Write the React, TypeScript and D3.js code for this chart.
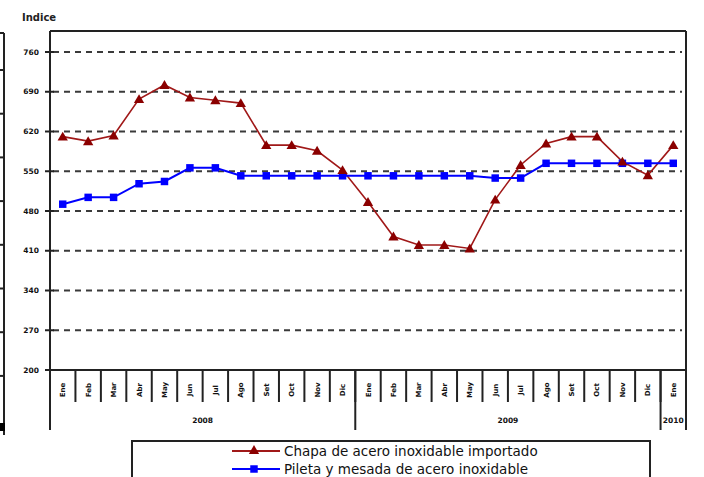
import React, { useEffect, useRef } from 'react';
import * as d3 from 'd3';

const months = ['Ene', 'Feb', 'Mar', 'Abr', 'May', 'Jun', 'Jul', 'Ago', 'Set', 'Oct', 'Nov', 'Dic'];
const years = [
  { label: '2008', count: 12 },
  { label: '2009', count: 12 },
  { label: '2010', count: 1 }
];
const categories = [...months, ...months, 'Ene'];

const chapa = [611, 603, 613, 677, 702, 680, 675, 670, 596, 596, 586, 552,
  496, 435, 420, 420, 414, 500, 561, 599, 611, 611, 567, 543, 596];
const pileta = [492, 504, 504, 528, 532, 556, 556, 542, 542, 542, 542, 542,
  542, 542, 542, 542, 542, 538, 538, 564, 564, 564, 564, 564, 564];

const yTicks = [200, 270, 340, 410, 480, 550, 620, 690, 760];

const App = () => {
  const svgRef = useRef<SVGSVGElement | null>(null);

  useEffect(() => {
    if (!svgRef.current) return;
    const svg = d3.select(svgRef.current);
    svg.selectAll('*').remove();

    const left = 50, right = 686, top = 31, bottom = 370;
    const font = 'DejaVu Sans, Verdana, sans-serif';

    const x = d3.scaleBand<number>()
      .domain(d3.range(categories.length))
      .range([left, right]);
    const y = d3.scaleLinear().domain([200, 760]).range([bottom, 52]);
    const cx = (i: number) => (x(i) as number) + x.bandwidth() / 2;

    // cropped edge of a neighbouring chart
    const edge = svg.append('g').attr('stroke', '#222').attr('stroke-width', 2);
    edge.append('line').attr('x1', 4).attr('x2', 4).attr('y1', 33).attr('y2', 435);
    edge.append('line').attr('x1', 0).attr('x2', 4).attr('y1', 33).attr('y2', 33);
    d3.range(70, 400, 43.7).forEach(t => {
      edge.append('line').attr('x1', 0).attr('x2', 4).attr('y1', t).attr('y2', t);
    });
    svg.append('rect').attr('x', 0).attr('y', 423).attr('width', 5).attr('height', 8).attr('fill', '#000');

    // title
    svg.append('text')
      .attr('x', 22).attr('y', 21)
      .attr('font-family', font).attr('font-size', 10).attr('font-weight', 'bold')
      .attr('fill', '#222')
      .text('Indice');

    // grid lines
    svg.append('g')
      .selectAll('line')
      .data(yTicks.filter(d => d > 200))
      .enter()
      .append('line')
      .attr('x1', left + 3)
      .attr('x2', right - 4)
      .attr('y1', d => y(d))
      .attr('y2', d => y(d))
      .attr('stroke', '#3a3a3a')
      .attr('stroke-width', 2)
      .attr('stroke-dasharray', '6,5');

    // frame
    const frame = svg.append('g').attr('stroke', '#222').attr('stroke-width', 2).attr('fill', 'none');
    frame.append('line').attr('x1', left).attr('x2', right).attr('y1', top).attr('y2', top);
    frame.append('line').attr('x1', right).attr('x2', right).attr('y1', top).attr('y2', 430);
    frame.append('line').attr('x1', left).attr('x2', left).attr('y1', top).attr('y2', 430);
    frame.append('line').attr('x1', left).attr('x2', right).attr('y1', bottom).attr('y2', bottom);

    // y ticks and labels
    const yAxis = svg.append('g');
    yTicks.forEach(t => {
      yAxis.append('line')
        .attr('x1', left - 5).attr('x2', left + 4)
        .attr('y1', y(t)).attr('y2', y(t))
        .attr('stroke', '#222').attr('stroke-width', 2);
      yAxis.append('text')
        .attr('x', 39).attr('y', y(t) + 2.5)
        .attr('text-anchor', 'end')
        .attr('font-family', font).attr('font-size', 7.5).attr('font-weight', 'bold')
        .attr('fill', '#111')
        .text(t);
    });

    // x category separators and month labels
    const xAxis = svg.append('g');
    categories.forEach((m, i) => {
      const x0 = x(i) as number;
      if (i > 0) {
        xAxis.append('line')
          .attr('x1', x0).attr('x2', x0).attr('y1', bottom).attr('y2', 402)
          .attr('stroke', '#222').attr('stroke-width', 2);
      }
      xAxis.append('text')
        .attr('transform', `translate(${cx(i) + 2.5},390) rotate(-90)`)
        .attr('text-anchor', 'middle')
        .attr('font-family', font).attr('font-size', 7).attr('font-weight', 'bold')
        .attr('fill', '#111')
        .text(m);
    });

    // year groups
    let start = 0;
    years.forEach(yr => {
      const x0 = x(start) as number;
      const x1 = x0 + yr.count * x.bandwidth();
      xAxis.append('line')
        .attr('x1', x1).attr('x2', x1).attr('y1', bottom).attr('y2', 430)
        .attr('stroke', '#222').attr('stroke-width', 2);
      xAxis.append('text')
        .attr('x', (x0 + x1) / 2).attr('y', 423)
        .attr('text-anchor', 'middle')
        .attr('font-family', font).attr('font-size', 7.5).attr('font-weight', 'bold')
        .attr('fill', '#111')
        .text(yr.label);
      start += yr.count;
    });

    const line = d3.line<number>()
      .x((_, i) => cx(i))
      .y(d => y(d));

    const triangle = d3.symbol().type(d3.symbolTriangle).size(46);
    const square = d3.symbol().type(d3.symbolSquare).size(56);

    // Chapa series
    svg.append('path')
      .datum(chapa)
      .attr('fill', 'none')
      .attr('stroke', '#a01818')
      .attr('stroke-width', 1.6)
      .attr('d', line);

    // Pileta series
    svg.append('path')
      .datum(pileta)
      .attr('fill', 'none')
      .attr('stroke', '#0000ff')
      .attr('stroke-width', 2)
      .attr('d', line);

    svg.append('g')
      .selectAll('path')
      .data(pileta)
      .enter()
      .append('path')
      .attr('transform', (d, i) => `translate(${cx(i)},${y(d)})`)
      .attr('d', square)
      .attr('fill', '#0000ff');

    svg.append('g')
      .selectAll('path')
      .data(chapa)
      .enter()
      .append('path')
      .attr('transform', (d, i) => `translate(${cx(i)},${y(d) + 1})`)
      .attr('d', triangle)
      .attr('fill', '#8b0000');

    // legend
    svg.append('rect')
      .attr('x', 132).attr('y', 441)
      .attr('width', 518).attr('height', 60)
      .attr('fill', '#fff')
      .attr('stroke', '#222')
      .attr('stroke-width', 2);

    const legendItems = [
      { label: 'Chapa de acero inoxidable importado', color: '#a01818', fill: '#8b0000', symbol: triangle },
      { label: 'Pileta y mesada de acero inoxidable', color: '#0000ff', fill: '#0000ff', symbol: square }
    ];

    legendItems.forEach((item, i) => {
      const row = svg.append('g').attr('transform', `translate(0, ${451 + i * 18})`);
      row.append('line')
        .attr('x1', 232).attr('x2', 280).attr('y1', 0).attr('y2', 0)
        .attr('stroke', item.color).attr('stroke-width', 2);
      row.append('path')
        .attr('transform', 'translate(254,0)')
        .attr('d', item.symbol)
        .attr('fill', item.fill);
      row.append('text')
        .attr('x', 284).attr('y', 5)
        .attr('font-family', font).attr('font-size', 13.5)
        .attr('fill', '#111')
        .text(item.label);
    });
  }, []);

  return (
    <svg
      ref={svgRef}
      width={704}
      height={477}
      style={{ position: 'absolute', left: 0, top: 0, background: '#fff' }}
    />
  );
};

export default App;
